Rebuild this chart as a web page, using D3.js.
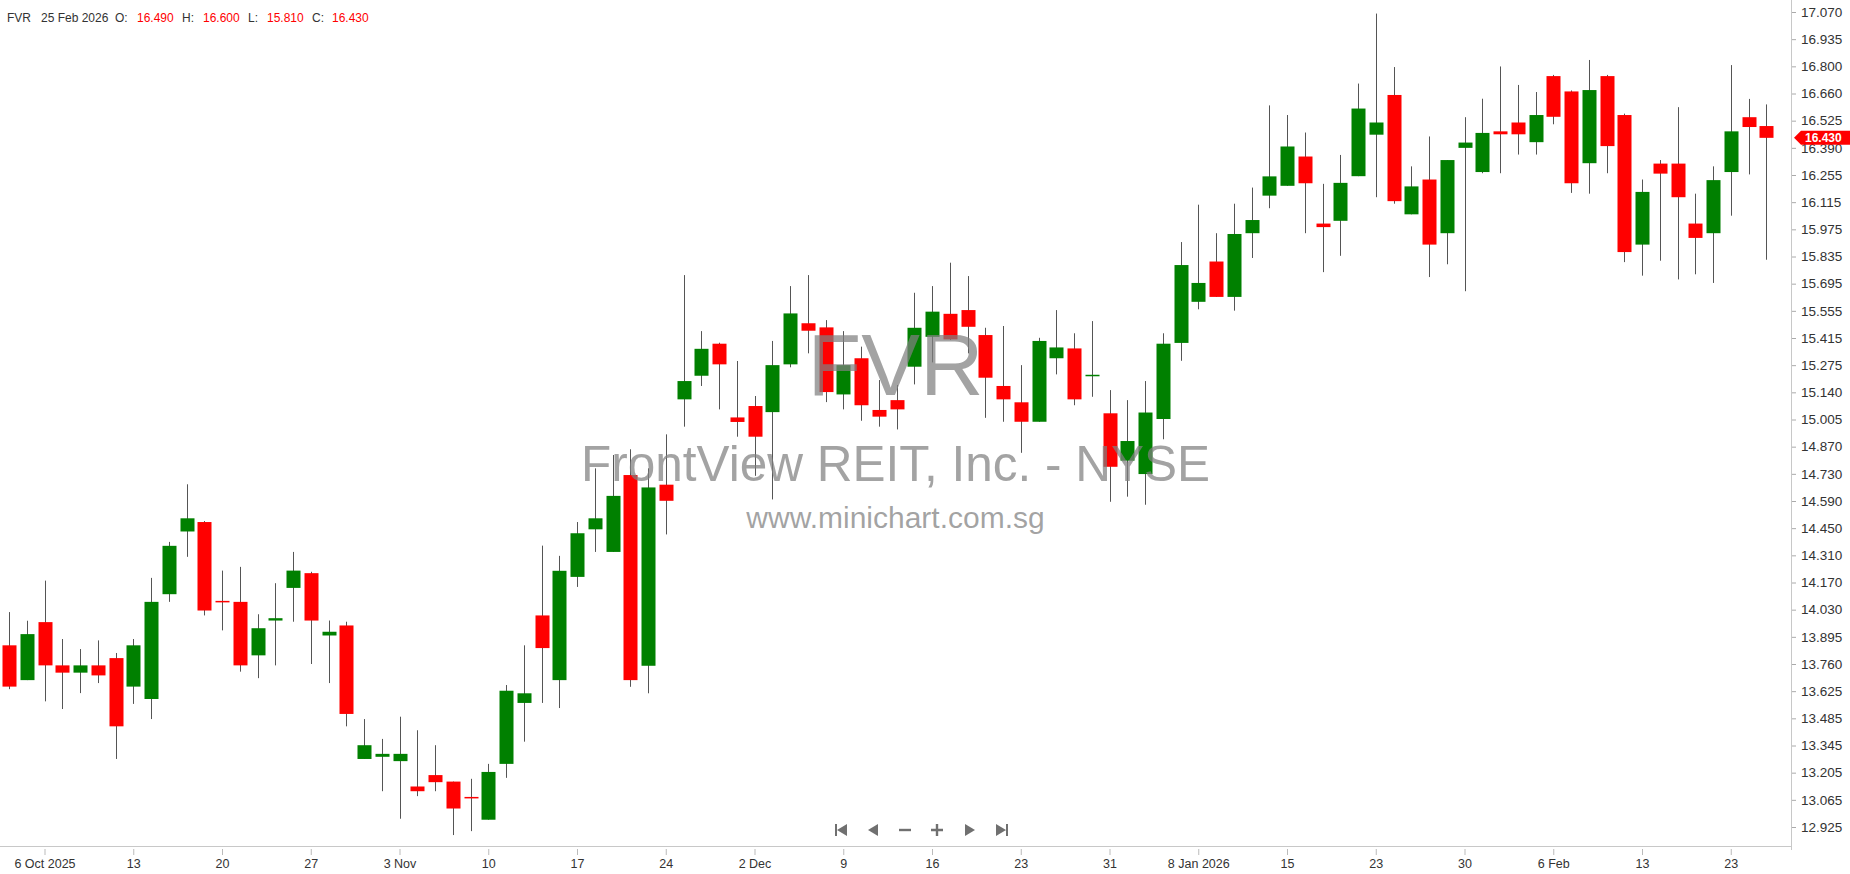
<!DOCTYPE html>
<html>
<head>
<meta charset="utf-8">
<script src="https://cdn.jsdelivr.net/npm/d3@7/dist/d3.min.js"></script>
<style>
  body { margin: 0; background: #fff; overflow: hidden; }
  svg text { font-family: "Liberation Sans", Arial, sans-serif; }
</style>
</head>
<body>
<div id="chart"></div>
<script>
// trading days shown, 2 Oct 2025 .. 25 Feb 2026
var dates = [
  "2025-10-02","2025-10-03","2025-10-06","2025-10-07","2025-10-08","2025-10-09","2025-10-10",
  "2025-10-13","2025-10-14","2025-10-15","2025-10-16","2025-10-17","2025-10-20","2025-10-21",
  "2025-10-22","2025-10-23","2025-10-24","2025-10-27","2025-10-28","2025-10-29","2025-10-30",
  "2025-10-31","2025-11-03","2025-11-04","2025-11-05","2025-11-06","2025-11-07","2025-11-10",
  "2025-11-11","2025-11-12","2025-11-13","2025-11-14","2025-11-17","2025-11-18","2025-11-19",
  "2025-11-20","2025-11-21","2025-11-24","2025-11-25","2025-11-26","2025-11-28","2025-12-01",
  "2025-12-02","2025-12-03","2025-12-04","2025-12-05","2025-12-08","2025-12-09","2025-12-10",
  "2025-12-11","2025-12-12","2025-12-15","2025-12-16","2025-12-17","2025-12-18","2025-12-19",
  "2025-12-22","2025-12-23","2025-12-24","2025-12-26","2025-12-29","2025-12-30","2025-12-31",
  "2026-01-02","2026-01-05","2026-01-06","2026-01-07","2026-01-08","2026-01-09","2026-01-12",
  "2026-01-13","2026-01-14","2026-01-15","2026-01-16","2026-01-20","2026-01-21","2026-01-22",
  "2026-01-23","2026-01-26","2026-01-27","2026-01-28","2026-01-29","2026-01-30","2026-02-02",
  "2026-02-03","2026-02-04","2026-02-05","2026-02-06","2026-02-09","2026-02-10","2026-02-11",
  "2026-02-12","2026-02-13","2026-02-17","2026-02-18","2026-02-19","2026-02-20","2026-02-23",
  "2026-02-24","2026-02-25"
];

var open = [
  13.849,13.672,13.967,13.747,13.710,13.747,13.784,13.639,13.576,14.109,
  14.428,14.476,14.075,14.070,13.798,13.975,14.141,14.216,13.899,13.950,
  13.271,13.282,13.260,13.131,13.189,13.156,13.078,12.962,13.246,13.556,
  14.001,13.672,14.197,14.439,14.324,14.715,13.745,14.666,15.100,15.220,
  15.383,15.008,15.066,15.035,15.278,15.487,15.466,15.125,15.309,15.046,
  15.096,15.266,15.418,15.535,15.554,15.427,15.168,15.085,14.986,15.309,
  15.359,15.220,15.029,14.788,14.720,15.000,15.387,15.596,15.801,15.621,
  15.945,16.136,16.186,16.335,15.994,16.008,16.235,16.446,16.648,16.041,
  16.218,15.945,16.379,16.256,16.463,16.508,16.408,16.744,16.666,16.301,
  16.744,16.546,15.887,16.299,16.299,15.994,15.945,16.256,16.535,16.490
];
var high = [
  14.018,13.974,14.178,13.881,13.830,13.874,13.810,13.881,14.192,14.375,
  14.668,14.481,14.229,14.248,14.007,14.165,14.324,14.223,13.975,13.969,
  13.474,13.373,13.486,13.417,13.341,13.156,13.170,13.246,13.647,13.849,
  14.356,14.304,14.476,14.749,14.817,14.846,14.749,14.922,15.732,15.447,
  15.388,15.295,15.117,15.397,15.676,15.732,15.503,15.447,15.368,15.198,
  15.173,15.642,15.676,15.795,15.727,15.464,15.473,15.274,15.413,15.554,
  15.436,15.498,15.147,15.096,15.193,15.436,15.900,16.090,15.945,16.095,
  16.177,16.595,16.546,16.457,16.196,16.343,16.706,17.062,16.790,16.285,
  16.437,16.317,16.535,16.629,16.793,16.699,16.663,16.750,16.671,16.826,
  16.750,16.553,16.218,16.317,16.586,16.146,16.285,16.800,16.628,16.600
];
var low = [
  13.626,13.672,13.564,13.525,13.606,13.657,13.271,13.551,13.474,14.070,
  14.299,14.001,13.925,13.715,13.682,13.747,13.969,13.754,13.657,13.437,
  13.271,13.107,12.967,13.082,13.107,12.884,12.904,12.962,13.175,13.359,
  13.556,13.530,14.146,14.324,14.324,13.638,13.605,14.413,14.961,15.168,
  15.049,14.910,14.711,14.591,15.263,15.334,15.086,15.049,14.991,14.961,
  14.947,15.176,15.288,15.402,15.334,15.006,14.986,14.828,14.986,15.227,
  15.070,15.113,14.579,14.605,14.564,14.897,15.296,15.558,15.621,15.551,
  15.819,16.072,16.186,15.945,15.747,15.830,16.235,16.128,16.095,16.041,
  15.722,15.787,15.650,16.250,16.250,16.345,16.345,16.499,16.150,16.146,
  16.250,15.798,15.729,15.805,15.710,15.736,15.692,16.034,16.244,15.810
];
var close = [
  13.639,13.906,13.747,13.710,13.747,13.696,13.437,13.849,14.070,14.355,
  14.495,14.026,14.070,13.747,13.936,13.987,14.229,13.975,13.918,13.500,
  13.341,13.297,13.297,13.107,13.153,13.019,13.071,13.205,13.618,13.605,
  13.835,14.228,14.419,14.495,14.609,13.672,14.652,14.584,15.193,15.357,
  15.278,14.985,14.910,15.274,15.537,15.449,15.137,15.274,15.070,15.012,
  15.049,15.464,15.546,15.405,15.469,15.210,15.100,14.986,15.397,15.364,
  15.100,15.225,14.757,14.888,15.033,15.383,15.783,15.692,15.621,15.941,
  16.012,16.234,16.386,16.199,15.976,16.201,16.579,16.508,16.108,16.183,
  15.887,16.317,16.406,16.455,16.448,16.448,16.546,16.537,16.199,16.673,
  16.388,15.849,16.155,16.248,16.128,15.921,16.215,16.463,16.485,16.430
];

var tickDates = ["2025-10-06","2025-10-13","2025-10-20","2025-10-27","2025-11-03","2025-11-10",
  "2025-11-17","2025-11-24","2025-12-02","2025-12-09","2025-12-16","2025-12-23","2025-12-31",
  "2026-01-08","2026-01-15","2026-01-23","2026-01-30","2026-02-06","2026-02-13","2026-02-23"];
var tickLabels = ["6 Oct 2025","13","20","27","3 Nov","10","17","24","2 Dec","9","16","23","31",
  "8 Jan 2026","15","23","30","6 Feb","13","23"];

var priceLabels = ["12.925","13.065","13.205","13.345","13.485","13.625","13.760","13.895",
  "14.030","14.170","14.310","14.450","14.590","14.730","14.870","15.005","15.140","15.275",
  "15.415","15.555","15.695","15.835","15.975","16.115","16.255","16.390","16.525","16.660",
  "16.800","16.935","17.070"];

var symbol = "FVR";
var company = "FrontView REIT, Inc. - NYSE";
var site = "www.minichart.com.sg";
var lastDateLabel = "25 Feb 2026";

var W = 1850, H = 874;
var plotRight = 1791, axisY = 846;
var green = "#008000", red = "#ff0000";

var svg = d3.select("#chart").append("svg")
    .attr("width", W)
    .attr("height", H);

var data = dates.map(function(d, i) {
  return { date: d, o: open[i], h: high[i], l: low[i], c: close[i] };
});

var x = d3.scalePoint().domain(dates).range([9, 1766.25]);
var pMin = +priceLabels[0], pMax = +priceLabels[priceLabels.length - 1];
var y = d3.scaleLinear().domain([pMin, pMax]).range([827, 12]);

// tick values are evenly spaced, labels are the broker's rounded ones
var step = (pMax - pMin) / (priceLabels.length - 1);
var priceTicks = priceLabels.map(function(s, i) { return pMin + i * step; });

// frame lines
svg.append("line")
    .attr("x1", 0).attr("x2", plotRight + 1)
    .attr("y1", axisY + 0.5).attr("y2", axisY + 0.5)
    .attr("stroke", "#c8c8c8");
svg.append("line")
    .attr("x1", plotRight + 0.5).attr("x2", plotRight + 0.5)
    .attr("y1", 0).attr("y2", axisY + 4)
    .attr("stroke", "#c8c8c8");

// right price axis
var yAxis = svg.append("g")
    .attr("transform", "translate(" + (plotRight + 1) + ",0)")
    .call(d3.axisRight(y)
      .tickValues(priceTicks)
      .tickFormat(function(d, i) { return priceLabels[i]; })
      .tickSize(4)
      .tickPadding(5));
yAxis.select(".domain").remove();
yAxis.selectAll(".tick line").attr("stroke", "#aaa");
yAxis.selectAll("text")
    .attr("fill", "#333")
    .style("font-size", "13.5px");

// bottom date axis
var xAxis = svg.append("g")
    .attr("transform", "translate(0," + (axisY + 3) + ")")
    .call(d3.axisBottom(x)
      .tickValues(tickDates)
      .tickFormat(function(d, i) { return tickLabels[i]; })
      .tickSize(6)
      .tickPadding(4));
xAxis.select(".domain").remove();
xAxis.selectAll(".tick line").attr("stroke", "#bbb");
xAxis.selectAll("text")
    .attr("fill", "#333")
    .style("font-size", "12.5px");

// candles
var candles = svg.append("g");
candles.selectAll("line.wick")
    .data(data)
  .enter().append("line")
    .attr("class", "wick")
    .attr("x1", function(d) { return Math.round(x(d.date)) + 0.5; })
    .attr("x2", function(d) { return Math.round(x(d.date)) + 0.5; })
    .attr("y1", function(d) { return y(d.h); })
    .attr("y2", function(d) { return y(d.l); })
    .attr("stroke", "#555")
    .attr("stroke-width", 1);

candles.selectAll("rect.body")
    .data(data)
  .enter().append("rect")
    .attr("class", "body")
    .attr("x", function(d) { return Math.round(x(d.date)) - 6.5; })
    .attr("width", 14)
    .attr("y", function(d) { return y(Math.max(d.o, d.c)); })
    .attr("height", function(d) { return Math.max(1.5, Math.abs(y(d.o) - y(d.c))); })
    .attr("fill", function(d) { return d.c >= d.o ? green : red; });

// watermark
var cx = plotRight / 2;
var wm = svg.append("g").attr("fill", "#808080").attr("fill-opacity", 0.72)
    .attr("text-anchor", "middle");
wm.append("text").attr("x", cx).attr("y", 395).style("font-size", "88px").text(symbol);
wm.append("text").attr("x", cx).attr("y", 481).style("font-size", "49.5px").text(company);
wm.append("text").attr("x", cx).attr("y", 528).style("font-size", "30px").text(site);

// header line
var last = data[data.length - 1];
var fmt = d3.format(".3f");
var header = [
  { t: symbol, x: 7, c: "#333" },
  { t: lastDateLabel, x: 41, c: "#333" },
  { t: "O:", x: 115, c: "#333" },
  { t: fmt(last.o), x: 137, c: red },
  { t: "H:", x: 182, c: "#333" },
  { t: fmt(last.h), x: 203, c: red },
  { t: "L:", x: 248, c: "#333" },
  { t: fmt(last.l), x: 267, c: red },
  { t: "C:", x: 312, c: "#333" },
  { t: fmt(last.c), x: 332, c: red }
];
svg.append("g").selectAll("text")
    .data(header)
  .enter().append("text")
    .attr("x", function(d) { return d.x; })
    .attr("y", 22)
    .attr("fill", function(d) { return d.c; })
    .style("font-size", "12px")
    .text(function(d) { return d.t; });

// last price marker
var ly = y(last.c);
var marker = svg.append("g");
marker.append("path")
    .attr("d", "M" + (plotRight + 3) + "," + ly +
               " L" + (plotRight + 10) + "," + (ly - 7) +
               " L" + W + "," + (ly - 7) +
               " L" + W + "," + (ly + 7) +
               " L" + (plotRight + 10) + "," + (ly + 7) + " Z")
    .attr("fill", red);
marker.append("text")
    .attr("x", plotRight + 14)
    .attr("y", ly + 4.5)
    .attr("fill", "#fff")
    .style("font-size", "12px")
    .style("font-weight", "bold")
    .text(fmt(last.c));

// navigation buttons
var navX = [841, 873, 905, 937, 970, 1002], navY = 830;
var icons = [
  "M-6,-6h2v12h-2z M-4,0L6,-6V6z",
  "M-5,0L5,-6V6z",
  "M-6,-1.2h12v2.4h-12z",
  "M-6,-1.2h12v2.4h-12z M-1.2,-6h2.4v12h-2.4z",
  "M5,0L-5,-6V6z",
  "M4,-6h2v12h-2z M4,0L-6,-6V6z"
];
svg.append("g").selectAll("path")
    .data(icons)
  .enter().append("path")
    .attr("transform", function(d, i) { return "translate(" + navX[i] + "," + navY + ")"; })
    .attr("d", function(d) { return d; })
    .attr("fill", "#707070");
</script>
</body>
</html>
